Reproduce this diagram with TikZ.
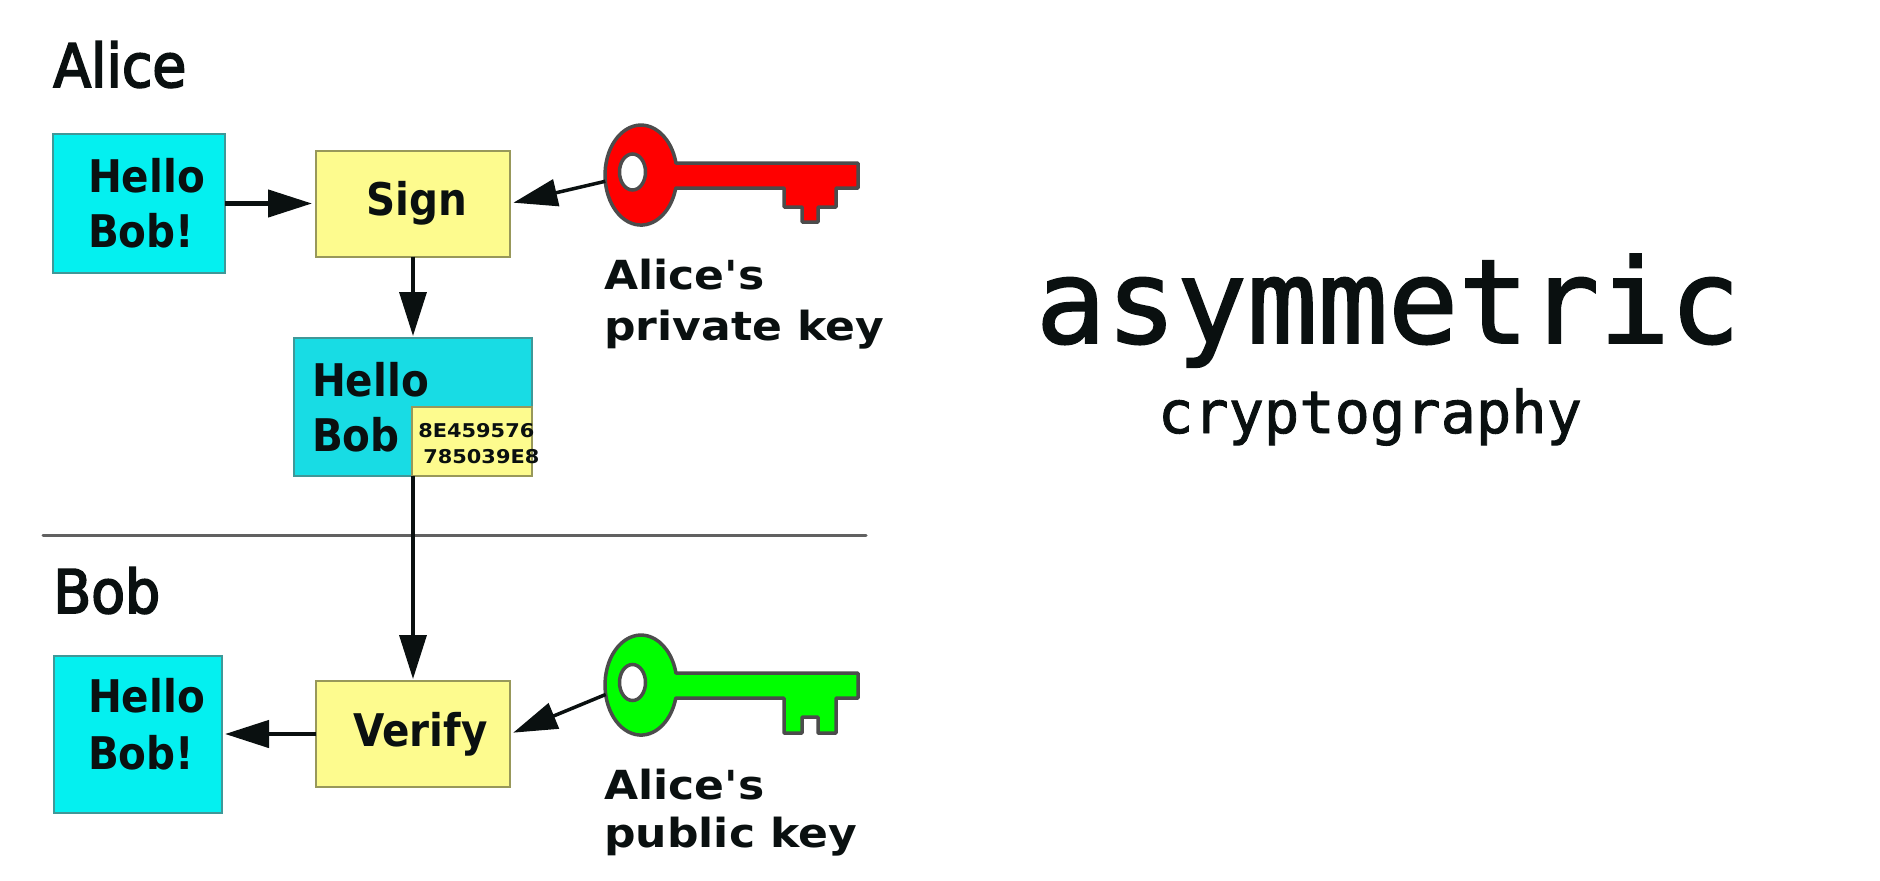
\documentclass[tikz,border=0pt]{standalone}
\usepackage{fontspec}
\usepackage{xcolor}
\usepackage{tikz}
\usetikzlibrary{positioning}
\usetikzlibrary{shapes.geometric}
\usetikzlibrary{arrows.meta}
\newfontfamily\namefont[FakeStretch=0.92,FakeBold=3]{DejaVu Sans}
\newfontfamily\cellfont[FakeStretch=0.90]{DejaVu Sans}
\newfontfamily\keyfont[FakeStretch=1.10]{DejaVu Sans}
\newfontfamily\titlefont[FakeBold=1.5]{DejaVu Sans Mono}
\definecolor{cell-cyan}{HTML}{04F0F0}
\definecolor{cell-teal}{HTML}{18DCE4}
\definecolor{cell-yellow}{HTML}{FDFB8E}
\definecolor{edge-teal}{HTML}{409898}
\definecolor{edge-yellow}{HTML}{98985A}
\definecolor{ink}{HTML}{0A1010}

\begin{document}
\begin{tikzpicture}
[
cell-a/.style={rectangle, draw=edge-teal, line width=0.4mm, outer sep=0mm, inner sep=0mm, text=ink, align=left, font=\cellfont\bfseries\fontsize{25.6}{31.3}\selectfont},
cell-b/.style={rectangle, draw=edge-yellow, line width=0.4mm, outer sep=0mm, inner sep=0mm, fill=cell-yellow, text=ink, font=\cellfont\bfseries\fontsize{25.6}{31.3}\selectfont},
text-name/.style={inner sep=0mm, anchor=base west, text=ink, font=\namefont\fontsize{34.2}{40}\selectfont},
text-key/.style={inner sep=0mm, anchor=north west, text=ink, align=left, font=\keyfont\bfseries\fontsize{22.8}{29}\selectfont},
text-sig/.style={inner sep=0mm, anchor=base west, text=ink, font=\keyfont\bfseries\fontsize{10.8}{12}\selectfont},
text-big/.style={inner sep=0mm, anchor=base, text=ink, font=\titlefont\fontsize{66.6}{72}\selectfont},
text-small/.style={inner sep=0mm, anchor=base, text=ink, font=\titlefont\fontsize{33.4}{36}\selectfont},
key-head/.style={ellipse, minimum width=14.4mm, minimum height=20mm, inner sep=0mm, outer sep=0mm},
key-hole/.style={ellipse, draw=black!70, fill=white, line width=0.7mm, minimum width=5.2mm, minimum height=7.2mm, inner sep=0mm},
key-body/.style={draw=black!70, line width=0.7mm, line join=round},
link-a/.style={draw=ink, line width=0.9mm, -{Triangle[length=8.8mm,width=5.4mm]}},
link-b/.style={draw=ink, line width=0.7mm, -{Triangle[length=8.8mm,width=5.4mm]}},
line-a/.style={draw=black!62, line width=0.6mm, line cap=round}
]
\useasboundingbox (0,0) rectangle (376mm,-176mm);
% sender
\node (alice)      [text-name]                                                at (10.60mm,-17.40mm)  {Alice};
\node (hello-a)    [cell-a, fill=cell-cyan, minimum width=34.40mm, minimum height=27.80mm] at (27.80mm,-40.70mm) {\hspace*{3.00mm}Hello\\\hspace*{3.00mm}Bob!};
\node (sign)       [cell-b, minimum width=38.80mm, minimum height=21.20mm, right = 18.20mm of hello-a] {\hspace*{1.60mm}Sign};
\node (signed)     [cell-a, fill=cell-teal, minimum width=47.60mm, minimum height=27.60mm, below = 16.30mm of sign] {Hello\hspace*{17.00mm}\\Bob\hspace*{17.00mm}};
\node (sig-box)    [cell-b, minimum width=24.00mm, minimum height=13.80mm, anchor=south east] at (signed.south east) {};
\node (sig-1)      [text-sig]                                                 at (83.60mm,-87.40mm)  {8E459576};
\node (sig-2)      [text-sig]                                                 at (84.60mm,-92.60mm)  {785039E8};
\node (key-a)      [key-head]                                                 at (128.20mm,-35.00mm) {};
\node (key-a-text) [text-key]                                                 at (120.80mm,-51.70mm) {Alice's\\private key};
% receiver
\node (bob)        [text-name]                                                at (10.60mm,-122.60mm) {Bob};
\node (verify)     [cell-b, minimum width=38.80mm, minimum height=21.20mm, below = 41.00mm of signed] {\hspace*{3.00mm}Verify};
\node (hello-c)    [cell-a, fill=cell-cyan, minimum width=33.60mm, minimum height=31.40mm, text depth=4.00mm, left = 18.80mm of verify] {\hspace*{3.40mm}Hello\\[0.40mm]\hspace*{3.40mm}Bob!};
\node (key-b)      [key-head]                                                 at (128.20mm,-137.00mm) {};
\node (key-b-text) [text-key, font=\keyfont\bfseries\fontsize{22.8}{27.3}\selectfont] at (120.80mm,-153.80mm) {Alice's\\public key};
% title
\node (asym)       [text-big]                                                 at (277.60mm,-68.60mm) {asymmetric};
\node (crypto)     [text-small]                                               at (274.00mm,-86.60mm) {cryptography};
% separator
\coordinate (rule-l) at (8.60mm,-107.00mm);
\coordinate (rule-r) at (173.20mm,-107.00mm);
\draw [line-a] (rule-l) -- (rule-r);
% keys
\begin{scope}[shift={(key-a)}, x=0.2mm, y=0.2mm]
\draw [key-body, fill=red] (34.9,12) -- (217,12) -- (217,-13) -- (195,-13) -- (195,-32) -- (177,-32) -- (177,-47) -- (161,-47) -- (161,-32) -- (143,-32) -- (143,-13) -- (34.8,-13) arc[start angle=-15, end angle=-346, x radius=36, y radius=50] -- cycle;
\end{scope}
\begin{scope}[shift={(key-b)}, x=0.2mm, y=0.2mm]
\draw [key-body, fill=green] (34.9,12) -- (217,12) -- (217,-13) -- (195,-13) -- (195,-48) -- (177,-48) -- (177,-32) -- (161,-32) -- (161,-48) -- (143,-48) -- (143,-13) -- (34.8,-13) arc[start angle=-15, end angle=-346, x radius=36, y radius=50] -- cycle;
\end{scope}
\node (hole-a) [key-hole] at ([xshift=-1.70mm,yshift=0.60mm]key-a.center) {};
\node (hole-b) [key-hole] at ([xshift=-1.70mm,yshift=0.50mm]key-b.center) {};
% links
\draw [link-a, shorten >=0.80mm] (hello-a) -- (sign);
\draw [link-b, shorten >=0.40mm] (sign) -- (signed);
\draw [link-b, shorten >=0.40mm] (signed) -- (verify);
\draw [link-a, shorten >=0.60mm] (verify) -- (hello-c);
\draw [link-b, shorten >=0.70mm] (key-a.190) -- (sign.east);
\draw [link-b, shorten >=0.70mm] (key-b.195) -- (verify.east);
\end{tikzpicture}
\end{document}
